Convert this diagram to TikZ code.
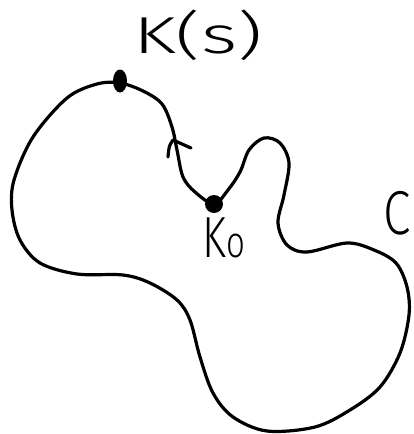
\documentclass[tikz,border=0pt]{standalone}
\usepackage{fontspec}
\usetikzlibrary{shapes.geometric}
\setmainfont{Fira Sans}[UprightFont = * Light]
\begin{document}
\begin{tikzpicture}[x=1pt,y=-1pt,
  ink/.style={line width=3.2pt,line cap=round,line join=round},
  dotnode/.style={fill=black,inner sep=0pt},
  lbl/.style={inner sep=0pt}]
\useasboundingbox (0,0) rectangle (414,434);
\draw[ink] plot[smooth cycle,tension=0.55] coordinates {
(120,83) (143,91) (162,104) (172,127) (177,150) (183,177) (195,192)
(214,204) (228,190) (240,172) (249,150) (264,138) (280,143) (289,163)
(284,195) (278,223) (287,245) (307,252) (347,243) (374,250) (396,263)
(407,287) (409,315) (400,353) (380,387) (350,410) (315,427) (267,431)
(233,417) (213,393) (200,357) (190,320) (177,300) (150,283) (123,275)
(77,274) (40,263) (20,240) (12,210) (14,180) (33,137) (67,98) (97,84)};
\node[dotnode,ellipse,minimum width=14pt,minimum height=23pt] (ks) at (120,81) {};
\node[dotnode,circle,minimum size=18pt] (k0) at (214,204) {};
\draw[ink] (168,157) .. controls (169,146) .. (173,140) -- (191,148);
\node[lbl,xscale=1.5,font=\fontsize{52}{52}\selectfont] (lks) at (198,35) {K(s)};
\node[lbl,xscale=0.75,font=\fontsize{58}{58}\selectfont] (lk0) at (224,238) {K{\fontsize{44}{44}\selectfont o}};
\node[lbl,xscale=0.8,font=\fontsize{62}{62}\selectfont] (lc) at (397,213) {C};
\end{tikzpicture}
\end{document}
